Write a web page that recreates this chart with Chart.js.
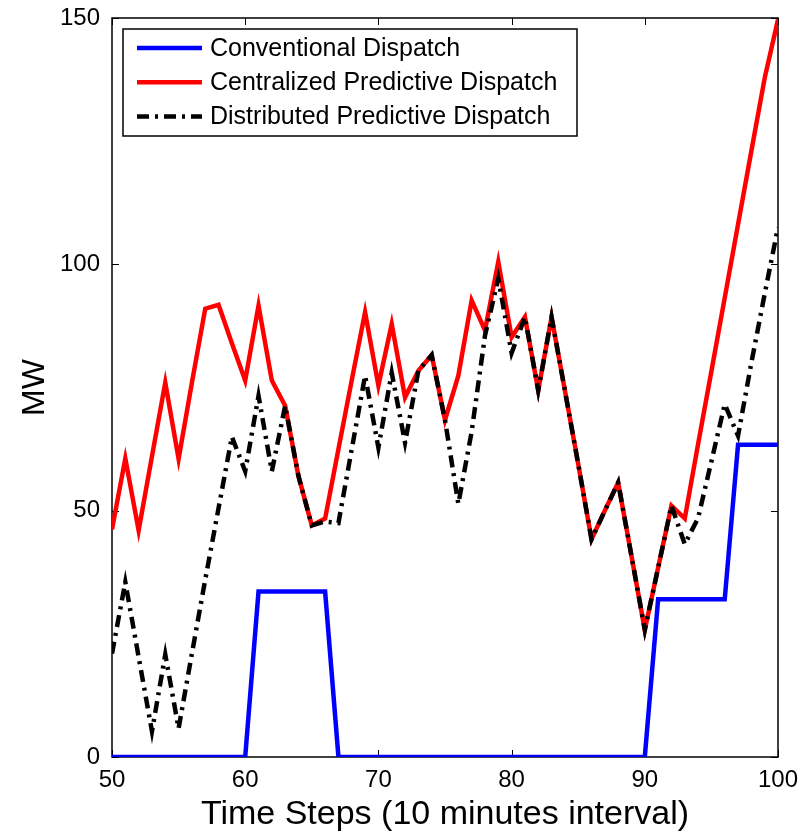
<!DOCTYPE html>
<html>
<head>
<meta charset="utf-8">
<script src="https://cdn.jsdelivr.net/npm/chart.js@4.4.1/dist/chart.umd.min.js"></script>
<style>
  html, body { margin: 0; padding: 0; background: #fff; }
  #wrap { width: 804px; height: 835px; position: relative; }
</style>
</head>
<body>
<div id="wrap"><canvas id="chart"></canvas></div>
<script>
// passos de tempo (eixo x)
const steps = [50, 51, 52, 53, 54, 55, 56, 57, 58, 59, 60, 61, 62, 63, 64, 65, 66, 67, 68, 69, 70,
  71, 72, 73, 74, 75, 76, 77, 78, 79, 80, 81, 82, 83, 84, 85, 86, 87, 88, 89, 90,
  91, 92, 93, 94, 95, 96, 97, 98, 99, 100];

const conventional = [0, 0, 0, 0, 0, 0, 0, 0, 0, 0, 0, 33.6, 33.6, 33.6, 33.6, 33.6, 33.6, 0, 0, 0, 0,
  0, 0, 0, 0, 0, 0, 0, 0, 0, 0, 0, 0, 0, 0, 0, 0, 0, 0, 0, 0,
  32, 32, 32, 32, 32, 32, 63.4, 63.4, 63.4, 63.4];

const centralized = [46.2, 60.6, 46, 61, 76, 60.5, 76, 91, 91.8, 84, 76.4, 91.6, 76.4, 71.3, 57, 47, 48.4, 62.5, 76.5, 90.3, 75.4,
  87.9, 73, 78.4, 81.6, 68.4, 77.4, 92.7, 86.6, 100.5, 85.2, 89.3, 74.4, 89.3, 74.4, 59.5, 44.2, 50, 55.7, 40.8, 25.8,
  38.4, 51, 48.4, 63.5, 78.3, 93.2, 108.1, 123, 137.8, 149.7];

const distributed = [21, 35.5, 20.3, 5.2, 20.8, 5.8, 21, 36, 50.5, 65, 58, 73.3, 58, 71.3, 57, 47, 47.8, 47.5, 62.5, 77.4, 62.8,
  78, 63.8, 78.4, 81.6, 68.4, 51.4, 66, 85.5, 97.1, 82, 89.3, 74.4, 89.3, 74.4, 59.5, 44.2, 50, 55.7, 40.8, 25.8,
  38.4, 51, 43.2, 48.5, 60, 71.6, 65.2, 80, 94, 107.5];

const xTicks = [50, 60, 70, 80, 90, 100];
const yTicks = [0, 50, 100, 150];

const FONT = "'Liberation Sans', Arial, Helvetica, sans-serif";

const toPoints = vals => steps.map((s, i) => ({ x: s, y: vals[i] }));

// moldura + marcas internas estilo MATLAB
const boxPlugin = {
    id: 'box',
    beforeDatasetsDraw(chart) {
        const { ctx, chartArea: a, scales } = chart;
        ctx.save();
        ctx.strokeStyle = '#000';
        ctx.lineWidth = 1.5;
        ctx.strokeRect(a.left, a.top, a.right - a.left, a.bottom - a.top);
        ctx.lineWidth = 1;
        const len = 7;
        ctx.beginPath();
        xTicks.forEach(v => {
            const px = Math.round(scales.x.getPixelForValue(v)) + 0.5;
            ctx.moveTo(px, a.bottom); ctx.lineTo(px, a.bottom - len);
            ctx.moveTo(px, a.top); ctx.lineTo(px, a.top + len);
        });
        yTicks.forEach(v => {
            const py = Math.round(scales.y.getPixelForValue(v)) + 0.5;
            ctx.moveTo(a.left, py); ctx.lineTo(a.left + len, py);
            ctx.moveTo(a.right, py); ctx.lineTo(a.right - len, py);
        });
        ctx.stroke();
        ctx.restore();
    },
    afterDraw(chart) {
        // legenda dentro da área do gráfico
        const { ctx, chartArea: a } = chart;
        const x0 = a.left + 11, y0 = a.top + 11, w = 454, h = 107;
        ctx.save();
        ctx.fillStyle = '#fff';
        ctx.fillRect(x0, y0, w, h);
        ctx.strokeStyle = '#000';
        ctx.lineWidth = 1.5;
        ctx.strokeRect(x0, y0, w, h);
        ctx.font = '25px ' + FONT;
        ctx.textBaseline = 'middle';
        chart.data.datasets.forEach((ds, i) => {
            const ry = y0 + 19 + i * 34.2;
            ctx.beginPath();
            ctx.strokeStyle = ds.borderColor;
            ctx.lineWidth = ds.borderWidth;
            ctx.setLineDash(ds.borderDash || []);
            ctx.moveTo(x0 + 14, ry);
            ctx.lineTo(x0 + 79, ry);
            ctx.stroke();
            ctx.setLineDash([]);
            ctx.fillStyle = '#000';
            ctx.fillText(ds.label, x0 + 87, ry + 1);
        });
        ctx.restore();
    }
};

new Chart(document.getElementById('chart'), {
    type: 'line',
    data: {
        datasets: [
            {
                label: 'Conventional Dispatch',
                data: toPoints(conventional),
                borderColor: '#0000ff',
                borderWidth: 4.5,
                order: 3
            },
            {
                label: 'Centralized Predictive Dispatch',
                data: toPoints(centralized),
                borderColor: '#ff0000',
                borderWidth: 4.5,
                order: 2
            },
            {
                label: 'Distributed Predictive Dispatch',
                data: toPoints(distributed),
                borderColor: '#000000',
                borderWidth: 4.5,
                borderDash: [12, 6, 3, 6],
                order: 1
            }
        ]
    },
    options: {
        responsive: true,
        maintainAspectRatio: false,
        animation: false,
        elements: {
            point: { radius: 0 },
            line: { tension: 0, fill: false }
        },
        layout: { padding: { left: 0, right: 26, top: 18, bottom: 0 } },
        scales: {
            x: {
                type: 'linear',
                min: 50,
                max: 100,
                afterFit: s => { s.height = 78; s.paddingLeft = 0; s.paddingRight = 0; },
                afterBuildTicks: s => { s.ticks = xTicks.map(v => ({ value: v })); },
                grid: { display: false, drawTicks: false },
                border: { display: false },
                ticks: {
                    color: '#000',
                    padding: 9,
                    maxRotation: 0,
                    font: { family: FONT, size: 24 }
                },
                title: {
                    display: true,
                    text: 'Time Steps (10 minutes interval)',
                    color: '#000',
                    font: { family: FONT, size: 34, lineHeight: 1 },
                    padding: { top: 0, bottom: 3 }
                }
            },
            y: {
                min: 0,
                max: 150,
                afterFit: s => { s.width = 112; s.paddingTop = 0; s.paddingBottom = 0; },
                afterBuildTicks: s => { s.ticks = yTicks.map(v => ({ value: v })); },
                grid: { display: false, drawTicks: false },
                border: { display: false },
                ticks: {
                    color: '#000',
                    padding: 12,
                    font: { family: FONT, size: 24 }
                },
                title: {
                    display: true,
                    text: 'MW',
                    color: '#000',
                    font: { family: FONT, size: 32, lineHeight: 1 },
                    padding: { top: 19, bottom: 0 }
                }
            }
        },
        plugins: {
            legend: { display: false },
            tooltip: { enabled: false }
        }
    },
    plugins: [boxPlugin]
});
</script>
</body>
</html>
